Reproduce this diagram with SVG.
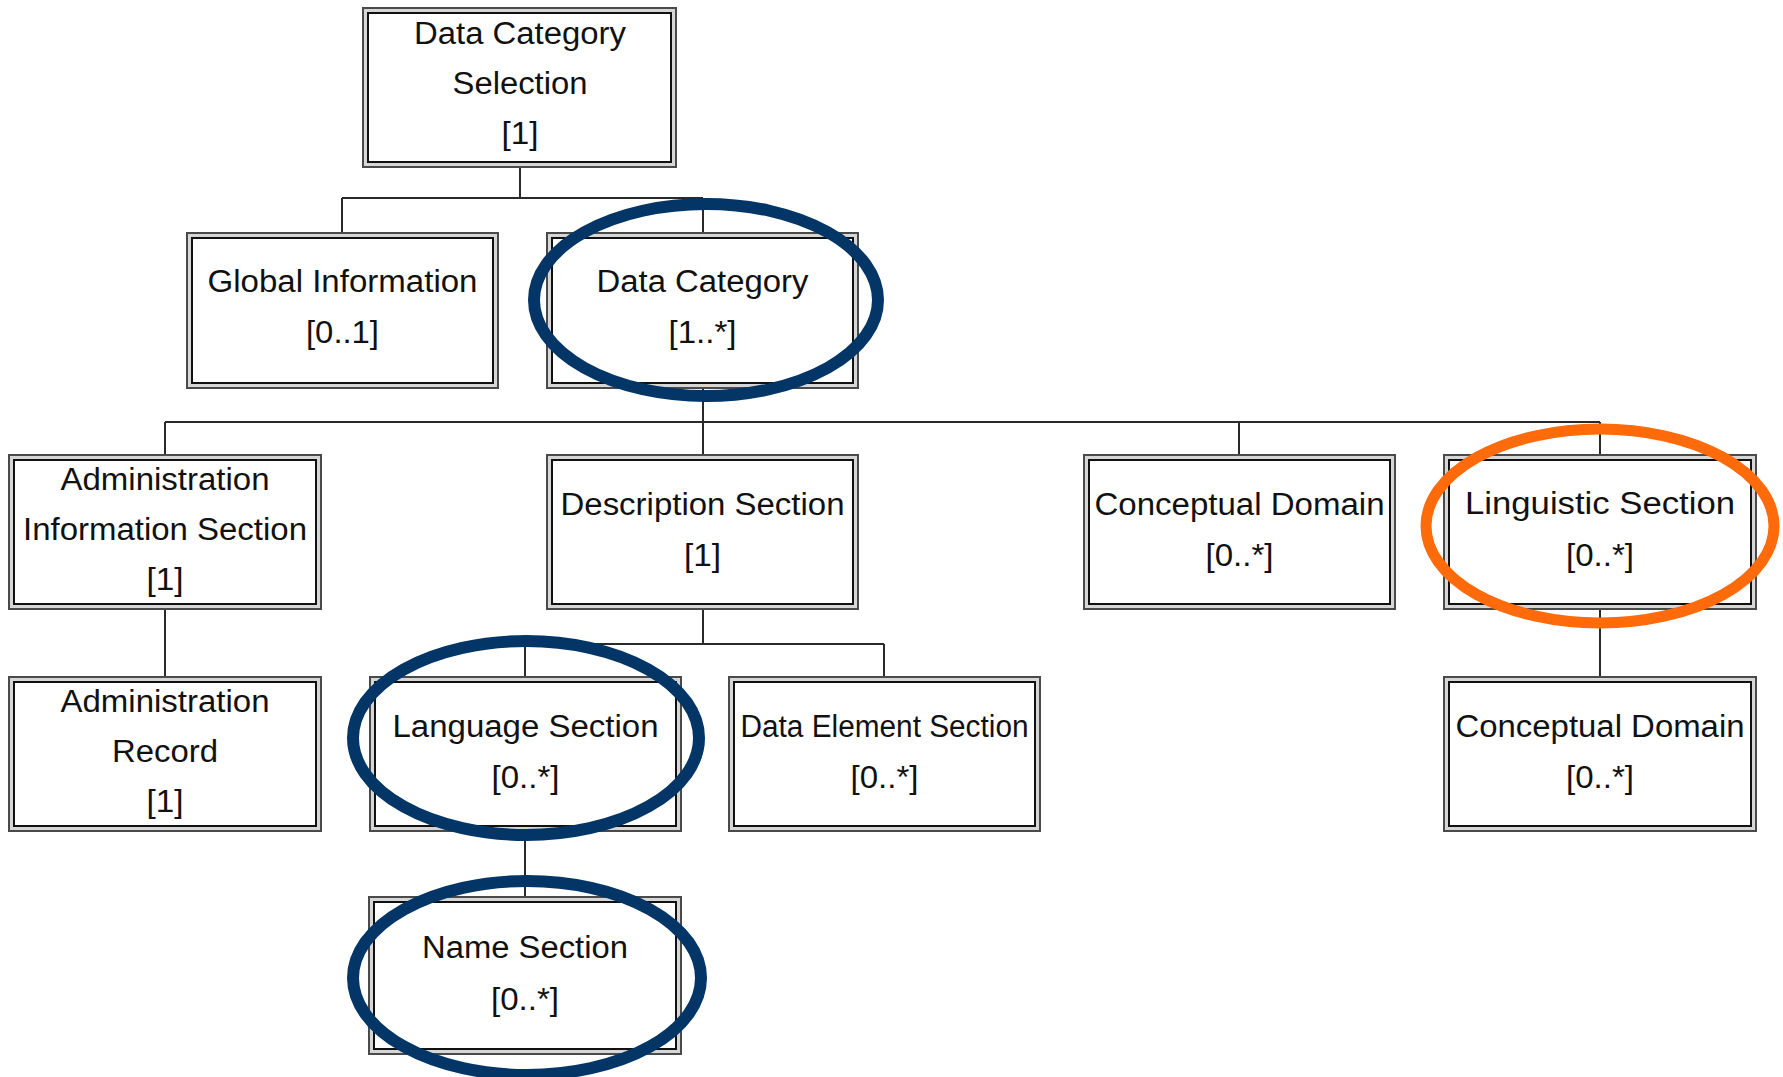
<svg xmlns="http://www.w3.org/2000/svg" width="1783" height="1077" viewBox="0 0 1783 1077">
  <style>
    .outer { fill: #d6d6d6; stroke: #4a4a4a; stroke-width: 2; }
    .inner { fill: #ffffff; stroke: #111111; stroke-width: 2; }
    .lbl { font-family: "Liberation Sans", Arial, sans-serif; font-size: 31px; fill: #111111; text-anchor: middle; }
    .wire { fill: none; stroke: #2a2a2a; stroke-width: 2; }
    .ring-blue { fill: none; stroke: #033667; stroke-width: 12; }
    .ring-orange { fill: none; stroke: #ff6a0a; stroke-width: 11; }
  </style>
  <rect width="1783" height="1077" fill="#ffffff"/>

  <!-- tree connectors -->
  <g id="connectors" class="wire">
    <path d="M520 167 V198 M342 198 H703 M342 198 V233 M703 198 V233"/>
    <path d="M703 388 V455 M165 422 H1600 M165 422 V455 M1239 422 V455 M1600 422 V455"/>
    <path d="M165 609 V677"/>
    <path d="M703 609 V644 M525 644 H884 M525 644 V677 M884 644 V677"/>
    <path d="M1600 609 V677"/>
    <path d="M525 831 V897"/>
  </g>

  <g id="data-category-selection">
    <rect class="outer" x="363" y="8" width="313" height="159"/>
    <rect class="inner" x="368" y="13" width="303" height="149"/>
    <text class="lbl" x="520" y="44" textLength="212" lengthAdjust="spacingAndGlyphs">Data Category</text>
    <text class="lbl" x="520" y="94" textLength="135" lengthAdjust="spacingAndGlyphs">Selection</text>
    <text class="lbl" x="520" y="144" textLength="37" lengthAdjust="spacingAndGlyphs">[1]</text>
  </g>

  <g id="global-information">
    <rect class="outer" x="187" y="233" width="311" height="155"/>
    <rect class="inner" x="192" y="238" width="301" height="145"/>
    <text class="lbl" x="342.5" y="292" textLength="270" lengthAdjust="spacingAndGlyphs">Global Information</text>
    <text class="lbl" x="342.5" y="343" textLength="73" lengthAdjust="spacingAndGlyphs">[0..1]</text>
  </g>

  <g id="data-category">
    <rect class="outer" x="547" y="233" width="311" height="155"/>
    <rect class="inner" x="552" y="238" width="301" height="145"/>
    <text class="lbl" x="702.5" y="292" textLength="212" lengthAdjust="spacingAndGlyphs">Data Category</text>
    <text class="lbl" x="702.5" y="343" textLength="68" lengthAdjust="spacingAndGlyphs">[1..*]</text>
  </g>

  <g id="administration-information-section">
    <rect class="outer" x="9" y="455" width="312" height="154"/>
    <rect class="inner" x="14" y="460" width="302" height="144"/>
    <text class="lbl" x="165" y="490" textLength="209" lengthAdjust="spacingAndGlyphs">Administration</text>
    <text class="lbl" x="165" y="540" textLength="284" lengthAdjust="spacingAndGlyphs">Information Section</text>
    <text class="lbl" x="165" y="590" textLength="37" lengthAdjust="spacingAndGlyphs">[1]</text>
  </g>

  <g id="description-section">
    <rect class="outer" x="547" y="455" width="311" height="154"/>
    <rect class="inner" x="552" y="460" width="301" height="144"/>
    <text class="lbl" x="702.5" y="515" textLength="284" lengthAdjust="spacingAndGlyphs">Description Section</text>
    <text class="lbl" x="702.5" y="566" textLength="37" lengthAdjust="spacingAndGlyphs">[1]</text>
  </g>

  <g id="conceptual-domain-1">
    <rect class="outer" x="1084" y="455" width="311" height="154"/>
    <rect class="inner" x="1089" y="460" width="301" height="144"/>
    <text class="lbl" x="1239.5" y="515" textLength="290" lengthAdjust="spacingAndGlyphs">Conceptual Domain</text>
    <text class="lbl" x="1239.5" y="566" textLength="68" lengthAdjust="spacingAndGlyphs">[0..*]</text>
  </g>

  <g id="linguistic-section">
    <rect class="outer" x="1444" y="455" width="312" height="154"/>
    <rect class="inner" x="1449" y="460" width="302" height="144"/>
    <text class="lbl" x="1600" y="514" textLength="270" lengthAdjust="spacingAndGlyphs">Linguistic Section</text>
    <text class="lbl" x="1600" y="566" textLength="68" lengthAdjust="spacingAndGlyphs">[0..*]</text>
  </g>

  <g id="administration-record">
    <rect class="outer" x="9" y="677" width="312" height="154"/>
    <rect class="inner" x="14" y="682" width="302" height="144"/>
    <text class="lbl" x="165" y="712" textLength="209" lengthAdjust="spacingAndGlyphs">Administration</text>
    <text class="lbl" x="165" y="762" textLength="106" lengthAdjust="spacingAndGlyphs">Record</text>
    <text class="lbl" x="165" y="812" textLength="37" lengthAdjust="spacingAndGlyphs">[1]</text>
  </g>

  <g id="language-section">
    <rect class="outer" x="370" y="677" width="311" height="154"/>
    <rect class="inner" x="375" y="682" width="301" height="144"/>
    <text class="lbl" x="525.5" y="737" textLength="266" lengthAdjust="spacingAndGlyphs">Language Section</text>
    <text class="lbl" x="525.5" y="788" textLength="68" lengthAdjust="spacingAndGlyphs">[0..*]</text>
  </g>

  <g id="data-element-section">
    <rect class="outer" x="729" y="677" width="311" height="154"/>
    <rect class="inner" x="734" y="682" width="301" height="144"/>
    <text class="lbl" x="884.5" y="737" textLength="288" lengthAdjust="spacingAndGlyphs">Data Element Section</text>
    <text class="lbl" x="884.5" y="788" textLength="68" lengthAdjust="spacingAndGlyphs">[0..*]</text>
  </g>

  <g id="conceptual-domain-2">
    <rect class="outer" x="1444" y="677" width="312" height="154"/>
    <rect class="inner" x="1449" y="682" width="302" height="144"/>
    <text class="lbl" x="1600" y="737" textLength="289" lengthAdjust="spacingAndGlyphs">Conceptual Domain</text>
    <text class="lbl" x="1600" y="788" textLength="68" lengthAdjust="spacingAndGlyphs">[0..*]</text>
  </g>

  <g id="name-section">
    <rect class="outer" x="369" y="897" width="312" height="157"/>
    <rect class="inner" x="374" y="902" width="302" height="147"/>
    <text class="lbl" x="525" y="958" textLength="206" lengthAdjust="spacingAndGlyphs">Name Section</text>
    <text class="lbl" x="525" y="1010" textLength="68" lengthAdjust="spacingAndGlyphs">[0..*]</text>
  </g>

  <!-- highlight rings -->
  <g id="highlights">
    <ellipse class="ring-blue" cx="706" cy="300" rx="172" ry="96"/>
    <ellipse class="ring-orange" cx="1600" cy="526" rx="174" ry="97"/>
    <ellipse class="ring-blue" cx="526" cy="738" rx="173" ry="97"/>
    <ellipse class="ring-blue" cx="527" cy="978" rx="174" ry="97"/>
  </g>
</svg>
